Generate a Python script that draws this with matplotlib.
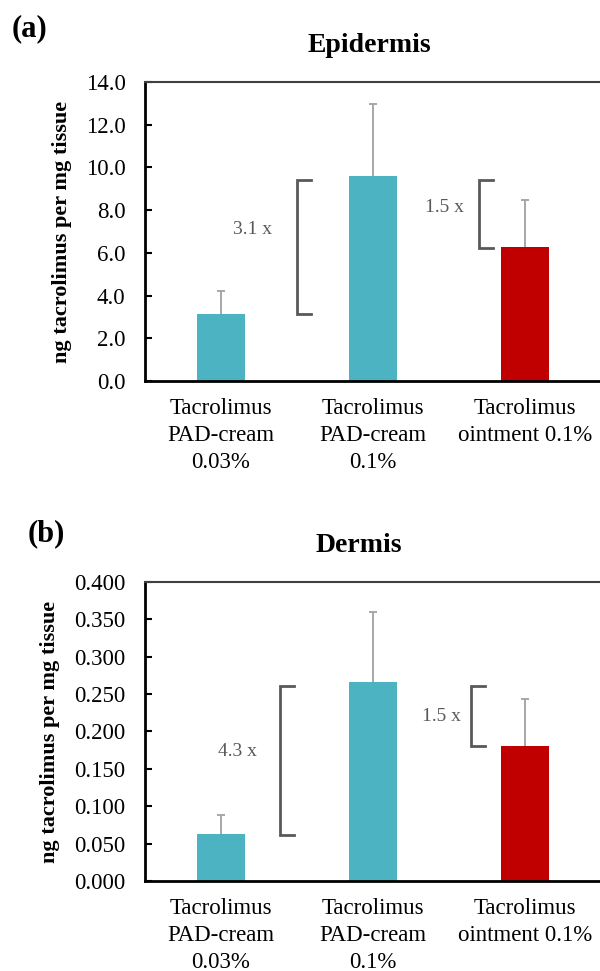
import numpy as np
import matplotlib
matplotlib.use('Agg')
from matplotlib import pyplot as plt

plt.rcParams['font.family'] = ['Liberation Serif', 'DejaVu Serif']

categories = ['Tacrolimus\nPAD-cream\n0.03%', 'Tacrolimus\nPAD-cream\n0.1%', 'Tacrolimus\nointment 0.1%']
bar_colors = ['#4BB3C1', '#4BB3C1', '#C00000']

epi_values = [3.14, 9.60, 6.27]
epi_errors = [1.09, 3.35, 2.19]
epi_ticks = [0.0, 2.0, 4.0, 6.0, 8.0, 10.0, 12.0, 14.0]

derm_values = [0.063, 0.266, 0.181]
derm_errors = [0.0255, 0.094, 0.063]
derm_ticks = [0.0, 0.05, 0.10, 0.15, 0.20, 0.25, 0.30, 0.35, 0.40]

# fold-change brackets: (label, low, high, bracket x, text x, text y)
epi_brackets = [('3.1 x', 3.14, 9.41, 0.498, 0.204, 7.1),
                ('1.5 x', 6.23, 9.41, 1.697, 1.467, 8.1)]
derm_brackets = [('4.3 x', 0.061, 0.2605, 0.388, 0.105, 0.1726),
                 ('1.5 x', 0.181, 0.261, 1.645, 1.452, 0.2198)]


def draw_panel(ax, values, errors, ticks, fmt, brackets):
    x = np.arange(len(values))
    ax.bar(x, values, width=0.316, color=bar_colors, zorder=2)
    # upper error bars only
    tops = np.array(values) + np.array(errors)
    ax.vlines(x, values, tops, color='#A5A8AB', lw=1.4, zorder=3)
    ax.hlines(tops, x - 0.028, x + 0.028, color='#A5A8AB', lw=1.4, zorder=3)
    ax.set_xlim(-0.5, 2.5)
    ax.set_ylim(ticks[0], ticks[-1])
    ax.set_yticks(ticks)
    ax.set_yticklabels([fmt % t for t in ticks], fontsize=16.5)
    ax.set_xticks(x)
    ax.set_xticklabels(categories, fontsize=16.5, linespacing=1.38)
    ax.tick_params(axis='x', length=0, pad=12)
    ax.tick_params(axis='y', direction='in', length=5, width=1.5, pad=14)
    ax.spines['right'].set_visible(False)
    ax.spines['top'].set_color('#404040')
    ax.spines['top'].set_linewidth(1.5)
    for s in ['left', 'bottom']:
        ax.spines[s].set_linewidth(2)
        ax.spines[s].set_color('black')
    ax.set_ylabel('ng tacrolimus per mg tissue', fontsize=16, fontweight='bold', labelpad=10)
    for label, lo, hi, bx, tx, ty in brackets:
        arm = 0.093
        ax.plot([bx + arm, bx, bx, bx + arm], [hi, hi, lo, lo], color='#595959',
                lw=2, solid_joinstyle='miter', zorder=4)
        ax.text(tx, ty, label, fontsize=14, color='#595959', ha='center', va='center')


fig = plt.figure(figsize=(6, 9.71), dpi=100)
ax1 = fig.add_axes([0.2417, 0.6076, 0.76, 0.308])
ax2 = fig.add_axes([0.2417, 0.0927, 0.76, 0.308])

draw_panel(ax1, epi_values, epi_errors, epi_ticks, '%.1f', epi_brackets)
draw_panel(ax2, derm_values, derm_errors, derm_ticks, '%.3f', derm_brackets)

fig.text(369 / 600, 1 - 45 / 971, 'Epidermis', fontsize=20, fontweight='bold', ha='center', va='center')
fig.text(359 / 600, 1 - 546 / 971, 'Dermis', fontsize=20, fontweight='bold', ha='center', va='center')
fig.text(12 / 600, 1 - 29 / 971, '(a)', fontsize=22, fontweight='bold', ha='left', va='center')
fig.text(28 / 600, 1 - 534 / 971, '(b)', fontsize=22, fontweight='bold', ha='left', va='center')

fig.savefig('out.png', dpi=100)
